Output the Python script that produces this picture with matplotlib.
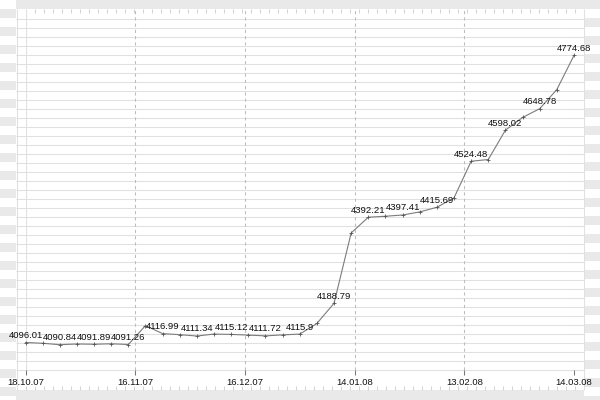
import numpy as np
import matplotlib.pyplot as plt
from matplotlib.patches import Rectangle

# closing values, evenly spaced points; every second one carries a label
values = [4096.01, 4094.2, 4090.84, 4092.5, 4091.89, 4093.0, 4091.26, 4136.0,
          4116.99, 4114.5, 4111.34, 4116.0, 4115.12, 4113.5, 4111.72, 4114.0,
          4115.9, 4141.0, 4188.79, 4355.0, 4392.21, 4394.5, 4397.41, 4404.7,
          4415.69, 4438.0, 4524.48, 4528.6, 4598.02, 4628.0, 4648.78, 4694.0,
          4774.68]
date_labels = ['18.10.07', '16.11.07', '16.12.07', '14.01.08', '13.02.08', '14.03.08']

stripe = '#e9e9e9'
rule = '#e0e0e0'

plt.rcParams['font.family'] = ['Liberation Sans', 'DejaVu Sans']
fig = plt.figure(figsize=(6, 4), dpi=100)

# frame with the ruler look, drawn in pixel coords
bg = fig.add_axes([0, 0, 1, 1])
bg.set_xlim(0, 600)
bg.set_ylim(400, 0)
bg.axis('off')

bg.add_patch(Rectangle((16, 0), 568, 9, color=stripe, lw=0))
bg.add_patch(Rectangle((16, 390), 568, 10, color=stripe, lw=0))
for y0 in np.arange(9, 400, 18):
    bg.add_patch(Rectangle((0, y0), 16, 9, color=stripe, lw=0))
for y0 in np.arange(0, 400, 18):
    bg.add_patch(Rectangle((584, y0), 16, 9, color=stripe, lw=0))

bg.hlines(np.arange(18.5, 370, 9), 16, 584, color=rule, lw=0.75)
bg.vlines([16.5, 583.5], 9, 390, color=rule, lw=0.75)
tx = np.arange(25.5, 583, 9)
bg.vlines(tx, 9, 13, color='#d4d4d4', lw=0.75)
bg.vlines(tx, 386, 390, color='#d4d4d4', lw=0.75)

# the chart itself
ax = fig.add_axes([25.5 / 600, 30.5 / 400, 548.5 / 600, 360 / 400])
ax.patch.set_visible(False)
for s in ax.spines.values():
    s.set_visible(False)

x = np.arange(len(values))
ax.set_xlim(0, len(values) - 1)
ax.set_ylim(4032.2, 4883.2)

pos = np.linspace(0, len(values) - 1, len(date_labels))
for i, p in enumerate(pos):
    if i == 0 or i == len(pos) - 1:
        ax.axvline(p, color=rule, lw=0.75, zorder=0)
    else:
        ax.axvline(p, color='#bcbcbc', lw=0.75, ls=(0, (3, 3)), zorder=0)

ax.plot(x, values, color='#7c7c7c', lw=0.8, marker='+', ms=2.6,
        mec='#555555', mew=0.6, clip_on=False)

for i in range(0, len(values), 2):
    ax.annotate(f'{values[i]:g}', (x[i], values[i]), xytext=(0, 3.3),
                textcoords='offset points', ha='center', va='baseline',
                fontsize=6.8, color='#111111')

ax.set_xticks(pos, date_labels)
ax.set_yticks([])
ax.tick_params(axis='x', length=3.6, width=0.75, color='#777777', pad=2.2,
               labelsize=6.8, labelcolor='#111111')

fig.savefig('out.png', dpi=100)
